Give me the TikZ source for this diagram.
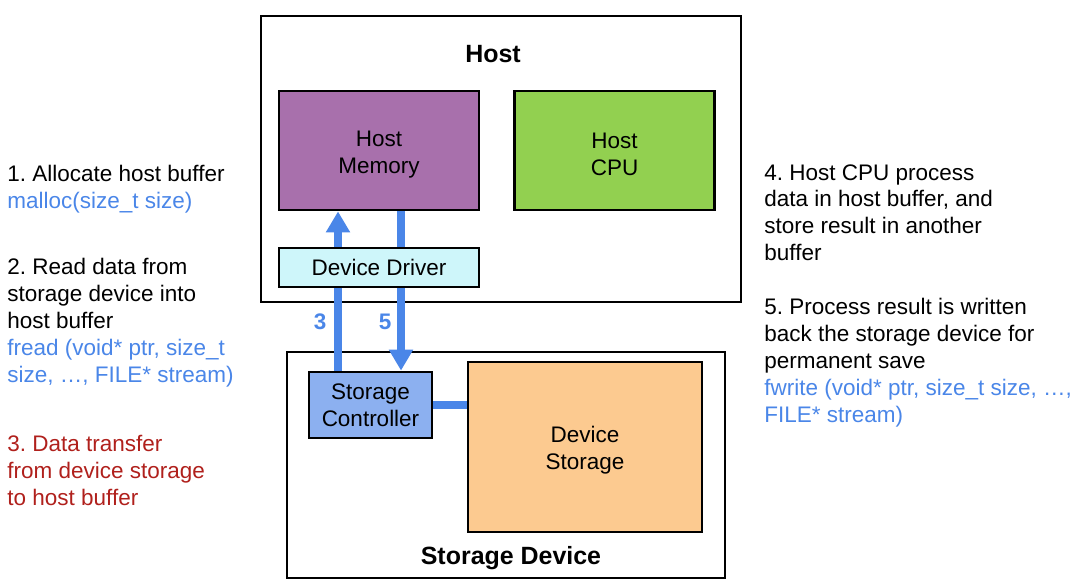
\documentclass[tikz,border=0pt]{standalone}
\usepackage{fontspec}
\setmainfont{Liberation Sans}
\frenchspacing
\usetikzlibrary{arrows.meta,positioning}

\definecolor{memcol}{RGB}{168,112,172}
\definecolor{cpucol}{RGB}{146,208,80}
\definecolor{drvcol}{RGB}{206,246,250}
\definecolor{ctlcol}{RGB}{140,176,240}
\definecolor{stocol}{RGB}{252,202,144}
\definecolor{flowcol}{RGB}{74,134,232}
\definecolor{redtxt}{RGB}{176,32,28}

\begin{document}
\begin{tikzpicture}[x=0.2mm, y=-0.2mm, line width=1.6pt,
  font=\fontsize{12.8}{15.3}\selectfont,
  box/.style={draw, inner sep=0pt, align=center},
  low/.style={text height=28.5pt},
  title/.style={font=\fontsize{14.2}{17}\selectfont\bfseries},
  note/.style={anchor=north west, inner sep=0pt, align=left},
  flow/.style={draw=flowcol, line width=5pt},
  >={Triangle[width=4.6mm,length=4.2mm]}]
  \useasboundingbox (0,0) rectangle (1080,583);
  % host
  \node[box, minimum width=96mm, minimum height=57.2mm] (H) at (501,159) {};
  \node[title] (Ht) at (493,54) {Host};
  \node[box, low, fill=memcol, minimum width=40mm, minimum height=23.8mm] (M) at (379,150.5) {Host\\Memory};
  \node[box, low, fill=cpucol, minimum width=40mm, minimum height=23.8mm] (C) at (614.5,150.5) {Host\\CPU};
  % storage device
  \node[box, minimum width=87.6mm, minimum height=45.2mm] (S) at (506,465) {};
  \node[title] (St) at (511,558) {Storage Device};
  \node[box, fill=ctlcol, minimum width=24.6mm, minimum height=13.2mm] (SC) at (370.5,405) {Storage\\Controller};
  \node[box, low, fill=stocol, minimum width=46.8mm, minimum height=34mm] (DS) at (585,447) {Device\\Storage};
  % flujos 3 y 5
  \coordinate (X3) at (338,0);
  \coordinate (X5) at (401,0);
  \draw[flow,->] (SC.north -| X3) -- (M.south -| X3);
  \draw[flow,->] (M.south -| X5) -- (SC.north -| X5);
  \draw[flow] (SC.east) -- (SC.east -| DS.west);
  \node[box, fill=drvcol, minimum width=40mm, minimum height=7.8mm] (D) at (379,267.5) {Device Driver};
  \node[text=flowcol, font=\fontsize{12.8}{15}\selectfont\bfseries] (L3) at (320,322) {3};
  \node[text=flowcol, font=\fontsize{12.8}{15}\selectfont\bfseries] (L5) at (385,322) {5};
  % pasos
  \node[note] (N1) at (6,164) {1. Allocate host buffer\\\textcolor{flowcol}{malloc(size\_t size)}};
  \node[note] (N2) at (6,257) {2. Read data from\\storage device into\\host buffer\\
    \textcolor{flowcol}{fread (void* ptr, size\_t}\\\textcolor{flowcol}{size, …, FILE* stream)}};
  \node[note, text=redtxt] (N3) at (6,434) {3. Data transfer\\from device storage\\to host buffer};
  \node[note] (N4) at (763,163) {4. Host CPU process\\data in host buffer, and\\store result in another\\buffer};
  \node[note] (N5) at (763,297) {5. Process result is written\\back the storage device for\\permanent save\\
    \textcolor{flowcol}{fwrite (void* ptr, size\_t size, …,}\\\textcolor{flowcol}{FILE* stream)}};
\end{tikzpicture}
\end{document}
